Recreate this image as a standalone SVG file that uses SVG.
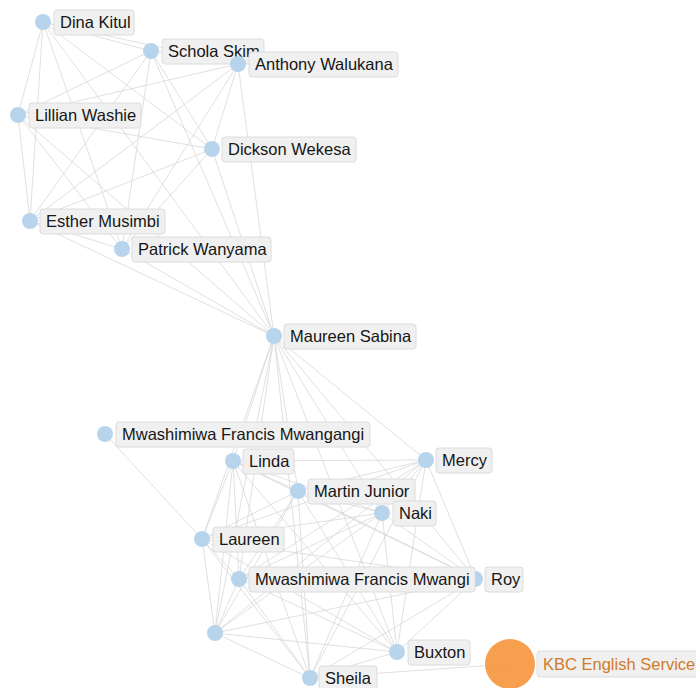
<svg xmlns="http://www.w3.org/2000/svg" width="696" height="688" viewBox="0 0 696 688">
<style>
.e line{stroke:#d6d6d6;stroke-width:1;stroke-opacity:0.75}
.n circle{fill:#b8d4ec}
.n rect{fill:#f0f0f0;stroke:#dcdcdc;stroke-width:1}
.n text{font-family:"Liberation Sans",Arial,sans-serif;font-size:16.5px;fill:#161616}
#kbc circle{fill:#f59a45;fill-opacity:0.95}
#kbc text{fill:#d07a2a}
</style>
<rect width="696" height="688" fill="#fff"/>
<g class="e" id="connectors">
<line x1="43" y1="22" x2="151" y2="51"/>
<line x1="43" y1="22" x2="238" y2="64"/>
<line x1="43" y1="22" x2="18" y2="115"/>
<line x1="43" y1="22" x2="212" y2="149"/>
<line x1="43" y1="22" x2="30" y2="221"/>
<line x1="43" y1="22" x2="122" y2="249"/>
<line x1="43" y1="22" x2="274" y2="336"/>
<line x1="151" y1="51" x2="238" y2="64"/>
<line x1="151" y1="51" x2="18" y2="115"/>
<line x1="151" y1="51" x2="212" y2="149"/>
<line x1="151" y1="51" x2="30" y2="221"/>
<line x1="151" y1="51" x2="122" y2="249"/>
<line x1="151" y1="51" x2="274" y2="336"/>
<line x1="238" y1="64" x2="18" y2="115"/>
<line x1="238" y1="64" x2="212" y2="149"/>
<line x1="238" y1="64" x2="30" y2="221"/>
<line x1="238" y1="64" x2="122" y2="249"/>
<line x1="238" y1="64" x2="274" y2="336"/>
<line x1="18" y1="115" x2="212" y2="149"/>
<line x1="18" y1="115" x2="30" y2="221"/>
<line x1="18" y1="115" x2="122" y2="249"/>
<line x1="18" y1="115" x2="274" y2="336"/>
<line x1="212" y1="149" x2="30" y2="221"/>
<line x1="212" y1="149" x2="122" y2="249"/>
<line x1="212" y1="149" x2="274" y2="336"/>
<line x1="30" y1="221" x2="122" y2="249"/>
<line x1="30" y1="221" x2="274" y2="336"/>
<line x1="122" y1="249" x2="274" y2="336"/>
<line x1="274" y1="336" x2="233" y2="461"/>
<line x1="274" y1="336" x2="426" y2="460"/>
<line x1="274" y1="336" x2="298" y2="491"/>
<line x1="274" y1="336" x2="382" y2="513"/>
<line x1="274" y1="336" x2="202" y2="539"/>
<line x1="274" y1="336" x2="239" y2="579"/>
<line x1="274" y1="336" x2="476" y2="579"/>
<line x1="274" y1="336" x2="215" y2="633"/>
<line x1="274" y1="336" x2="397" y2="652"/>
<line x1="274" y1="336" x2="310" y2="678"/>
<line x1="105" y1="434" x2="202" y2="539"/>
<line x1="233" y1="461" x2="426" y2="460"/>
<line x1="233" y1="461" x2="298" y2="491"/>
<line x1="233" y1="461" x2="382" y2="513"/>
<line x1="233" y1="461" x2="202" y2="539"/>
<line x1="233" y1="461" x2="239" y2="579"/>
<line x1="233" y1="461" x2="476" y2="579"/>
<line x1="233" y1="461" x2="215" y2="633"/>
<line x1="233" y1="461" x2="397" y2="652"/>
<line x1="233" y1="461" x2="310" y2="678"/>
<line x1="426" y1="460" x2="298" y2="491"/>
<line x1="426" y1="460" x2="382" y2="513"/>
<line x1="426" y1="460" x2="202" y2="539"/>
<line x1="426" y1="460" x2="239" y2="579"/>
<line x1="426" y1="460" x2="476" y2="579"/>
<line x1="426" y1="460" x2="215" y2="633"/>
<line x1="426" y1="460" x2="397" y2="652"/>
<line x1="426" y1="460" x2="310" y2="678"/>
<line x1="298" y1="491" x2="382" y2="513"/>
<line x1="298" y1="491" x2="202" y2="539"/>
<line x1="298" y1="491" x2="239" y2="579"/>
<line x1="298" y1="491" x2="476" y2="579"/>
<line x1="298" y1="491" x2="215" y2="633"/>
<line x1="298" y1="491" x2="397" y2="652"/>
<line x1="298" y1="491" x2="310" y2="678"/>
<line x1="382" y1="513" x2="202" y2="539"/>
<line x1="382" y1="513" x2="239" y2="579"/>
<line x1="382" y1="513" x2="476" y2="579"/>
<line x1="382" y1="513" x2="215" y2="633"/>
<line x1="382" y1="513" x2="397" y2="652"/>
<line x1="382" y1="513" x2="310" y2="678"/>
<line x1="202" y1="539" x2="239" y2="579"/>
<line x1="202" y1="539" x2="476" y2="579"/>
<line x1="202" y1="539" x2="215" y2="633"/>
<line x1="202" y1="539" x2="397" y2="652"/>
<line x1="202" y1="539" x2="310" y2="678"/>
<line x1="239" y1="579" x2="476" y2="579"/>
<line x1="239" y1="579" x2="215" y2="633"/>
<line x1="239" y1="579" x2="397" y2="652"/>
<line x1="239" y1="579" x2="310" y2="678"/>
<line x1="476" y1="579" x2="215" y2="633"/>
<line x1="476" y1="579" x2="397" y2="652"/>
<line x1="476" y1="579" x2="310" y2="678"/>
<line x1="215" y1="633" x2="397" y2="652"/>
<line x1="215" y1="633" x2="310" y2="678"/>
<line x1="397" y1="652" x2="310" y2="678"/>
<line x1="310" y1="678" x2="510" y2="664"/>
</g>
<g class="n" id="dina-kitul"><circle cx="43" cy="22" r="8"/><rect x="54" y="10" width="80" height="25" rx="3"/><text x="60" y="28">Dina Kitul</text></g>
<g class="n" id="schola-skim"><circle cx="151" cy="51" r="8"/><rect x="162" y="39" width="102" height="25" rx="3"/><text x="168" y="57">Schola Skim</text></g>
<g class="n" id="anthony-walukana"><circle cx="238" cy="64" r="8"/><rect x="249" y="52" width="149" height="25" rx="3"/><text x="255" y="70">Anthony Walukana</text></g>
<g class="n" id="lillian-washie"><circle cx="18" cy="115" r="8"/><rect x="29" y="103" width="112" height="25" rx="3"/><text x="35" y="121">Lillian Washie</text></g>
<g class="n" id="dickson-wekesa"><circle cx="212" cy="149" r="8"/><rect x="222" y="137" width="134" height="25" rx="3"/><text x="228" y="155">Dickson Wekesa</text></g>
<g class="n" id="esther-musimbi"><circle cx="30" cy="221" r="8"/><rect x="40" y="209" width="125" height="25" rx="3"/><text x="46" y="227">Esther Musimbi</text></g>
<g class="n" id="patrick-wanyama"><circle cx="122" cy="249" r="8"/><rect x="132" y="237" width="139" height="25" rx="3"/><text x="138" y="255">Patrick Wanyama</text></g>
<g class="n" id="maureen-sabina"><circle cx="274" cy="336" r="8"/><rect x="284" y="324" width="132" height="25" rx="3"/><text x="290" y="342">Maureen Sabina</text></g>
<g class="n" id="mwashimiwa-francis-mwangangi"><circle cx="105" cy="434" r="8"/><rect x="116" y="422" width="254" height="25" rx="3"/><text x="122" y="440">Mwashimiwa Francis Mwangangi</text></g>
<g class="n" id="linda"><circle cx="233" cy="461" r="8"/><rect x="243" y="449" width="51" height="25" rx="3"/><text x="249" y="467">Linda</text></g>
<g class="n" id="mercy"><circle cx="426" cy="460" r="8"/><rect x="436" y="448" width="56" height="25" rx="3"/><text x="442" y="466">Mercy</text></g>
<g class="n" id="martin-junior"><circle cx="298" cy="491" r="8"/><rect x="308" y="479" width="107" height="25" rx="3"/><text x="314" y="497">Martin Junior</text></g>
<g class="n" id="naki"><circle cx="382" cy="513" r="8"/><rect x="393" y="501" width="43" height="25" rx="3"/><text x="399" y="519">Naki</text></g>
<g class="n" id="laureen"><circle cx="202" cy="539" r="8"/><rect x="213" y="527" width="71" height="25" rx="3"/><text x="219" y="545">Laureen</text></g>
<g class="n" id="roy"><circle cx="475" cy="579" r="8"/><rect x="485" y="567" width="38" height="25" rx="3"/><text x="491" y="585">Roy</text></g>
<g class="n" id="mwashimiwa-francis-mwangi"><circle cx="239" cy="579" r="8"/><rect x="249" y="567" width="226" height="25" rx="3"/><text x="255" y="585">Mwashimiwa Francis Mwangi</text></g>
<g class="n" id="unlabeled"><circle cx="215" cy="633" r="8"/></g>
<g class="n" id="buxton"><circle cx="397" cy="652" r="8"/><rect x="408" y="640" width="62" height="25" rx="3"/><text x="414" y="658">Buxton</text></g>
<g class="n" id="sheila"><circle cx="310" cy="678" r="8"/><rect x="319" y="666" width="58" height="25" rx="3"/><text x="325" y="684">Sheila</text></g>
<g class="n" id="kbc"><circle cx="510" cy="664" r="25"/><rect x="537" y="651" width="165" height="26" rx="3"/><text x="543" y="670">KBC English Service</text></g>
</svg>
